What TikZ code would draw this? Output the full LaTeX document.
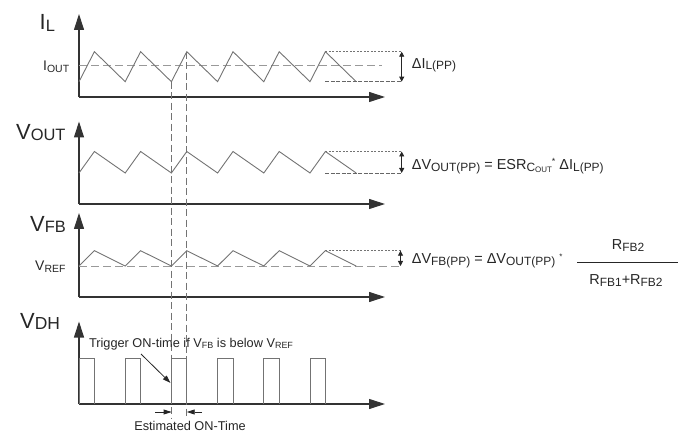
\documentclass[tikz,border=0pt]{standalone}
\usepackage{fontspec}
\setmainfont{Liberation Sans}
\usetikzlibrary{arrows.meta}
\newcommand\lo[2]{\raisebox{-1.5bp}{\fontsize{#1}{#1}\selectfont #2}}
\begin{document}
\begin{tikzpicture}[x=1bp,y=-1bp,
  axis/.style={draw=black!80, line width=1.1bp, -{Triangle[length=16bp,width=10bp]}},
  wave/.style={draw=black!55, line width=0.9bp, line join=miter},
  guide/.style={draw=black!40, line width=0.9bp, dash pattern=on 8bp off 4bp},
  vguide/.style={draw=black!55, line width=0.9bp, dash pattern=on 7bp off 3.5bp},
  dotl/.style={draw=black!55, line width=0.8bp, dash pattern=on 2bp off 1.5bp},
  dashl/.style={draw=black!60, line width=0.9bp, dash pattern=on 4bp off 1.5bp},
  dim/.style={draw=black!85, line width=0.8bp, {Triangle[length=5bp,width=5bp]}-{Triangle[length=5bp,width=5bp]}},
  lbl/.style={inner sep=0, anchor=base west, text=black!85},
  big/.style={lbl, font=\fontsize{22}{22}\selectfont},
  mid/.style={lbl, font=\fontsize{14.5}{14.5}\selectfont},
  lab/.style={lbl, font=\fontsize{14}{14}\selectfont},
  small/.style={inner sep=0, text=black!85, font=\fontsize{12.8}{12.8}\selectfont},
  pointer/.style={draw=black!85, line width=0.8bp, -{Triangle[length=8bp,width=5bp]}}
]
\useasboundingbox (0,0) rectangle (684,433);

% ---------- axes ----------
\coordinate (o1) at (79,97);   \coordinate (y1) at (79,14);   \coordinate (x1) at (385,97);
\coordinate (o2) at (79,204);  \coordinate (y2) at (79,121.5); \coordinate (x2) at (385,204);
\coordinate (o3) at (79,297);  \coordinate (y3) at (79,213);  \coordinate (x3) at (385,297);
\coordinate (o4) at (79,404);  \coordinate (y4) at (79,321.5); \coordinate (x4) at (385,404);
\foreach \i in {1,2,3,4} {
  \draw[axis] (o\i) -- (y\i);
  \draw[axis] (o\i) -- (x\i);
}

% ---------- guide lines ----------
\draw[guide] (79,65) -- (381.7,65);      % I_OUT
\draw[guide] (79,266) -- (400,266);      % V_REF
\draw[vguide] (171.6,81.7) -- (171.6,419);
\draw[vguide] (186.7,51.7) -- (186.7,419);

% ---------- waveforms ----------
\draw[wave] (79,81.7) \foreach \k in {0,...,4} { -- ({94.4+46.2*\k},51.7) -- ({125.2+46.2*\k},81.7) } -- (325.4,51.7) -- (356.2,81.7);
\draw[wave] (79,173) \foreach \k in {0,...,4} { -- ({94.4+46.2*\k},151.5) -- ({125.2+46.2*\k},173) } -- (325.4,151.5) -- (356.2,173);
\draw[wave] (79,266) \foreach \k in {0,...,4} { -- ({94.4+46.2*\k},250.7) -- ({125.2+46.2*\k},266) } -- (325.4,250.7) -- (356.2,266);
\foreach \k in {0,...,5} {
  \draw[wave] ({79+46.2*\k},404) -- ({79+46.2*\k},358.3) -- ({94.4+46.2*\k},358.3) -- ({94.4+46.2*\k},404);
}

% ---------- ripple extents ----------
\draw[dotl]  (325.4,51.7) -- (402,51.7);
\draw[dashl] (325.4,81.7) -- (402,81.7);
\coordinate (da1) at (401.7,51.7); \coordinate (db1) at (401.7,81.7);
\draw[dim] (da1) -- (db1);

\draw[dotl]  (325.4,151.5) -- (402,151.5);
\draw[dashl] (325.4,173) -- (402,173);
\coordinate (da2) at (401.7,151.5); \coordinate (db2) at (401.7,173);
\draw[dim] (da2) -- (db2);

\draw[dotl]  (325.4,250.7) -- (402,250.7);
\coordinate (da3) at (400.5,250.7); \coordinate (db3) at (400.5,266);
\draw[dim] (da3) -- (db3);

% ---------- axis labels ----------
\node[big] (lil) at (39.5,30) {I\lo{16.5}{L}};
\node[lab] (liout) at (43,71) {I\lo{10.5}{OUT}};
\node[big] (lvout) at (16,139.5) {V\lo{16.5}{OUT}};
\node[big] (lvfb) at (30,231.5) {V\lo{16.5}{FB}};
\node[lab] (lvref) at (35,271) {V\lo{10.5}{REF}};
\node[big] (lvdh) at (20,328.5) {V\lo{17.5}{DH}};

% ---------- formulas ----------
\node[mid] (fil) at (411.7,68.3) {ΔI\lo{12}{L(PP)}};
\node[mid] (fvout) at (411.7,170) {ΔV\lo{12}{OUT(PP)} = ESR\lo{12}{C\lo{8}{OUT}}\raisebox{5bp}{\fontsize{9}{9}\selectfont *} ΔI\lo{12}{L(PP)}};
\node[mid] (fvfb) at (411.7,264) {ΔV\lo{12}{FB(PP)} = ΔV\lo{12}{OUT(PP)} \raisebox{4bp}{\fontsize{8}{8}\selectfont *}};
\node[mid, anchor=base] (fnum) at (628,250) {R\lo{12}{FB2}};
\node[mid, anchor=base] (fden) at (626,285) {R\lo{12}{FB1}+R\lo{12}{FB2}};
\draw[draw=black!85, line width=0.9bp] (577,262.5) -- (678,262.5);

% ---------- annotations ----------
\node[small] (trig) at (191,344) {Trigger ON-time if V\lo{9}{FB} is below V\lo{9}{REF}};
\coordinate (trigs) at (141,354);
\coordinate (trigt) at (170.5,383);
\draw[pointer] (trigs) -- (trigt);

\node[small] (est) at (190,425.5) {Estimated ON-Time};
\coordinate (ela) at (155,412); \coordinate (elb) at (171.6,412);
\coordinate (era) at (202,412); \coordinate (erb) at (186.7,412);
\draw[pointer] (ela) -- (elb);
\draw[pointer] (era) -- (erb);
\end{tikzpicture}
\end{document}
